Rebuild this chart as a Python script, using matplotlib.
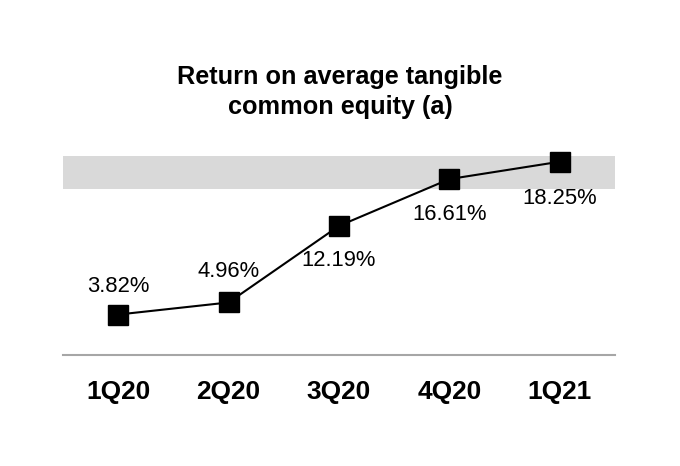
import matplotlib
matplotlib.use("Agg")
import matplotlib.pyplot as plt

categories = ["1Q20", "2Q20", "3Q20", "4Q20", "1Q21"]
values = [3.82, 4.96, 12.19, 16.61, 18.25]
labels = ["3.82%", "4.96%", "12.19%", "16.61%", "18.25%"]
band_low, band_high = 15.7, 18.8
# label vertical offsets in pixels (positive = above)
offsets = [28, 31, -35, -35, -37]

plt.rcParams['font.family'] = ['Liberation Sans', 'DejaVu Sans']

fig = plt.figure(figsize=(6.8, 4.66), dpi=100)
ax = fig.add_axes([63/680, 1-355/466, 552/680, 215/466])
x = list(range(len(categories)))
ax.set_xlim(-0.5, 4.5)
ax.set_ylim(0, 20.3)
ax.axhspan(band_low, band_high, color="#d9d9d9", lw=0, zorder=0)
ax.plot(x, values, color="black", lw=1.5, marker="s", markersize=14,
        markerfacecolor="black", markeredgecolor="black", zorder=3)
for xi, v, lab, off in zip(x, values, labels, offsets):
    ax.annotate(lab, (xi, v), xytext=(0, off*0.72), textcoords="offset points",
                ha="center", va="center", fontsize=15.8, color="black")
for s in ["top", "right", "left"]:
    ax.spines[s].set_visible(False)
ax.spines["bottom"].set_color("#a6a6a6")
ax.spines["bottom"].set_linewidth(1.5)
ax.set_yticks([])
ax.set_xticks(x)
ax.set_xticklabels(categories, fontsize=18.9, fontweight="bold")
ax.tick_params(axis="x", length=0, pad=18)
fig.text(340/680, 1-92/466, "Return on average tangible\ncommon equity (a)",
         ha="center", va="center", fontsize=18.2, fontweight="bold", linespacing=1.3)
fig.savefig("out.png", dpi=100)
